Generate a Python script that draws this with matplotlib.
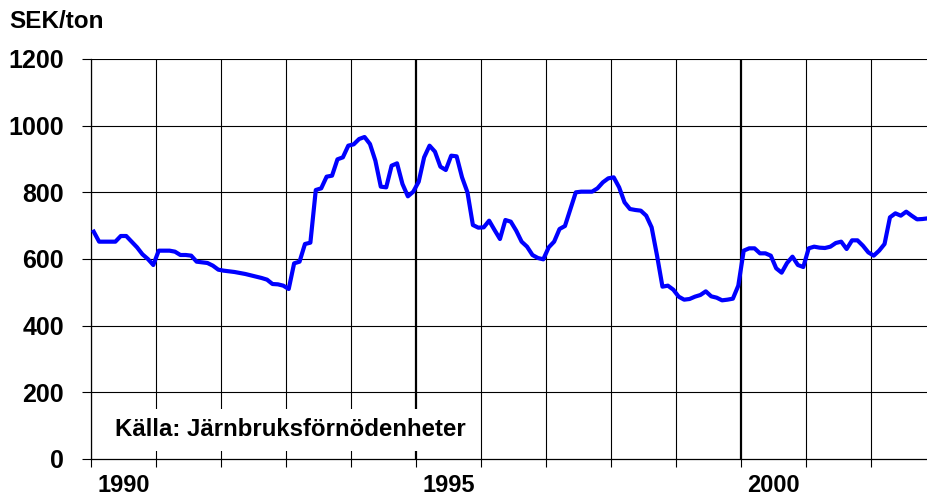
import numpy as np
import matplotlib.pyplot as plt

# monthly steel price, SEK/ton, Jan 1990 - Nov 2002
p1990 = [682, 652, 652, 652, 652, 669, 669, 652, 635, 614, 600, 582]
p1991 = [625, 625, 625, 622, 612, 612, 610, 592, 590, 588, 580, 568]
p1992 = [565, 563, 561, 558, 555, 551, 547, 543, 538, 525, 524, 520]
p1993 = [510, 587, 592, 645, 649, 807, 812, 847, 850, 899, 905, 940]
p1994 = [944, 960, 966, 945, 895, 817, 815, 880, 887, 825, 788, 802]
p1995 = [832, 905, 940, 922, 877, 867, 910, 908, 845, 800, 702, 694]
p1996 = [695, 715, 687, 660, 717, 712, 685, 652, 637, 612, 603, 599]
p1997 = [635, 652, 690, 699, 750, 800, 802, 802, 802, 812, 830, 842]
p1998 = [845, 815, 770, 750, 747, 745, 730, 695, 610, 517, 520, 508]
p1999 = [487, 478, 480, 487, 492, 503, 488, 484, 476, 478, 481, 520]
p2000 = [625, 632, 632, 617, 617, 610, 572, 559, 588, 607, 582, 576]
p2001 = [632, 637, 634, 633, 637, 648, 652, 630, 656, 656, 640, 620]
p2002 = [610, 625, 645, 725, 737, 730, 742, 730, 719, 720, 722]

prices = (p1990 + p1991 + p1992 + p1993 + p1994 + p1995 + p1996 + p1997
          + p1998 + p1999 + p2000 + p2001 + p2002)
year_labels = ['1990', '1995', '2000']
source = 'Källa: Järnbruksförnödenheter'

plt.rcParams['font.family'] = ['Liberation Sans', 'DejaVu Sans']
plt.rcParams['font.weight'] = 'bold'

fig = plt.figure(figsize=(9.27, 4.96), dpi=100)
ax = fig.add_axes([91 / 927, 37 / 496, 836 / 927, 400 / 496])

t = 1990 + (np.arange(len(prices)) + 0.5) / 12
ax.plot(t, prices, color='#0000ff', lw=3.0, zorder=3, solid_joinstyle='round')

ax.set_xlim(1990, 1990 + 836 / 65)
ax.set_ylim(0, 1200)

# grid: one line per year, heavier at 1995 and 2000
years = np.arange(1990, 2003)
ax.set_xticks(years)
ax.set_xticklabels([])
for y in years:
    lw = 1.6 if y in (1995, 2000) else 0.8
    ax.axvline(y, color='black', lw=lw, zorder=1)
ax.set_yticks(np.arange(0, 1201, 200))
for v in np.arange(200, 1201, 200):
    ax.axhline(v, color='black', lw=0.8, zorder=1)

ax.set_xticks([1990.5, 1995.5, 2000.5], minor=True)
ax.set_xticklabels(year_labels, minor=True, fontsize=17, fontweight='bold')
ax.tick_params(axis='x', which='minor', length=0, pad=11)
ax.tick_params(axis='x', which='major', direction='out', length=6, width=0.8)
ax.tick_params(axis='y', direction='out', length=6.5, width=0.8, pad=13,
               labelsize=18)
for lab in ax.get_yticklabels():
    lab.set_fontweight('bold')

ax.spines['right'].set_visible(False)
ax.spines['top'].set_visible(False)
ax.spines['left'].set_linewidth(0.9)
ax.spines['bottom'].set_linewidth(0.9)

ax.text(1990.37, 88, source, fontsize=17.3, fontweight='bold', va='center',
        ha='left', zorder=4,
        bbox=dict(facecolor='white', edgecolor='none', pad=7))

fig.text(9 / 927, 1 - 21 / 496, 'SEK/ton', fontsize=17.5, fontweight='bold',
         va='center', ha='left')

fig.savefig('out.png', dpi=100)
